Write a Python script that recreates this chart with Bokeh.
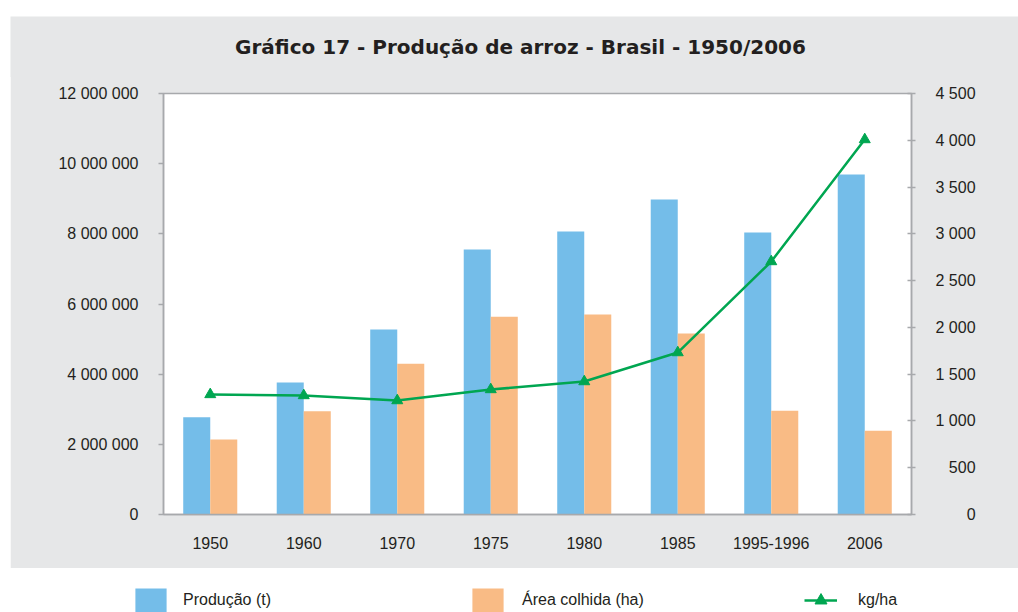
from bokeh.plotting import figure
from bokeh.models import (FactorRange, Range1d, LinearAxis, ColumnDataSource, Legend,
                          LegendItem, CustomJSTickFormatter, FixedTicker, Label)
from bokeh.transform import dodge
from bokeh.embed import file_html
from bokeh.resources import INLINE

categories = ["1950", "1960", "1970", "1975", "1980", "1985", "1995-1996", "2006"]
producao_t = [2770000, 3760000, 5270000, 7550000, 8070000, 8980000, 8040000, 9690000]
area_ha = [2140000, 2940000, 4300000, 5640000, 5700000, 5160000, 2960000, 2390000]
kg_ha = [1283, 1272, 1218, 1336, 1421, 1731, 2704, 4008]
left_ticks = [0, 2000000, 4000000, 6000000, 8000000, 10000000, 12000000]
right_ticks = [0, 500, 1000, 1500, 2000, 2500, 3000, 3500, 4000, 4500]

title_text = "Gráfico 17 - Produção de arroz - Brasil - 1950/2006"
series_names = ["Produção (t)", "Área colhida (ha)", "kg/ha"]

BLUE = "#74bde9"
ORANGE = "#f9bb85"
GREEN = "#00a651"
PANEL = "#e6e7e8"
AXIS = "#a7a9ac"
TEXT = "#231f20"
FONT = "Liberation Sans"

src = ColumnDataSource(dict(cat=categories, prod=producao_t, area=area_ha, kg=kg_ha))
xr = FactorRange(*categories, range_padding=0)

# title strip (top part of the grey panel)
tf = figure(width=1008, height=61, margin=(16, 0, 0, 10), output_backend="svg",
            toolbar_location=None, min_border=0, x_range=Range1d(0, 1), y_range=Range1d(0, 1),
            x_axis_location=None, y_axis_location=None, outline_line_color=None,
            background_fill_color=PANEL, border_fill_color=PANEL)
tf.grid.visible = False
tf.add_layout(Label(x=510, y=31, x_units="screen", y_units="screen", text=title_text,
                    text_align="center", text_baseline="middle", text_font="DejaVu Sans",
                    text_font_style="bold", text_font_size="20px", text_color=TEXT))

p = figure(x_range=xr, y_range=Range1d(0, 12000000),
           width=1008, height=492, margin=(-1, 0, 0, 10),
           output_backend="svg", toolbar_location=None,
           min_border_left=153, min_border_right=107, min_border_top=17, min_border_bottom=54,
           border_fill_color=PANEL, background_fill_color="white",
           outline_line_color=AXIS, outline_line_width=1.5)
p.extra_y_ranges = {"kg": Range1d(0, 4500)}
p.grid.visible = False

p.vbar(x=dodge("cat", -0.1445, range=xr), top="prod", width=0.289, source=src,
       fill_color=BLUE, line_color=None)
p.vbar(x=dodge("cat", 0.1445, range=xr), top="area", width=0.289, source=src,
       fill_color=ORANGE, line_color=None)
p.line(x="cat", y="kg", source=src, y_range_name="kg", line_color=GREEN, line_width=2.5)
p.scatter(x="cat", y="kg", source=src, y_range_name="kg", marker="triangle", size=11,
          fill_color=GREEN, line_color=GREEN)

fmt = CustomJSTickFormatter(code="""
return Math.round(tick).toString().replace(/\\B(?=(\\d{3})+(?!\\d))/g, ' ');
""")
fmt_r = CustomJSTickFormatter(code="""
const s = Math.round(tick).toString().replace(/\\B(?=(\\d{3})+(?!\\d))/g, '\\u00a0');
const full = '4\\u00a0500';
let pad = '';
for (let i = s.length; i < full.length; i++) {
  pad += (full[full.length - 1 - (i)] === '\\u00a0') ? '\\u00a0' : '\\u2007';
}
return pad + s;
""")

def style_axis(ax):
    ax.axis_line_color = AXIS
    ax.axis_line_width = 1.5
    ax.major_tick_line_color = AXIS
    ax.major_tick_line_width = 1.5
    ax.minor_tick_line_color = None
    ax.major_label_text_font = FONT
    ax.major_label_text_font_size = "16px"
    ax.major_label_text_color = TEXT

yl = p.yaxis[0]
yl.ticker = FixedTicker(ticks=left_ticks)
yl.formatter = fmt
style_axis(yl)
yl.major_tick_out = 5
yl.major_tick_in = 0
yl.major_label_standoff = 20

yr = LinearAxis(y_range_name="kg", ticker=FixedTicker(ticks=right_ticks), formatter=fmt_r)
style_axis(yr)
yr.major_tick_out = 4
yr.major_tick_in = 4
yr.major_label_standoff = 20
p.add_layout(yr, "right")

xa = p.xaxis[0]
style_axis(xa)
xa.major_tick_out = 0
xa.major_tick_in = 0
xa.major_tick_line_color = None
xa.major_label_standoff = 22

# legend strip below the panel; its glyphs reuse the data but lie far outside its ranges
lg = figure(width=1008, height=44, margin=(0, 0, 0, 10), output_backend="svg",
            toolbar_location=None, min_border=0, x_range=xr, y_range=Range1d(1e12, 2e12),
            x_axis_location=None, y_axis_location=None, outline_line_color=None,
            background_fill_color="white", border_fill_color="white")
lg.extra_y_ranges = {"kg": Range1d(1e12, 2e12)}
lg.grid.visible = False
r1 = lg.vbar(x=dodge("cat", -0.1445, range=xr), top="prod", width=0.289, source=src,
             fill_color=BLUE, line_color=None)
r2 = lg.vbar(x=dodge("cat", 0.1445, range=xr), top="area", width=0.289, source=src,
             fill_color=ORANGE, line_color=None)
r3 = lg.line(x="cat", y="kg", source=src, y_range_name="kg", line_color=GREEN, line_width=2.5)
r4 = lg.scatter(x="cat", y="kg", source=src, y_range_name="kg", marker="triangle",
                fill_color=GREEN, line_color=GREEN)

def make_legend(items, loc, gw, standoff):
    L = Legend(items=items, location=loc, glyph_width=gw, glyph_height=30,
               label_standoff=standoff, padding=0, margin=0, border_line_color=None,
               background_fill_alpha=0, label_text_font=FONT, label_text_font_size="16px",
               label_text_color=TEXT, label_height=30)
    lg.add_layout(L)

make_legend([LegendItem(label=series_names[0], renderers=[r1])], (121, -3), 39, 13)
make_legend([LegendItem(label=series_names[1], renderers=[r2])], (458, -3), 39, 15)
make_legend([LegendItem(label=series_names[2], renderers=[r3, r4])], (794, -3), 33, 21)

open("out.html", "w").write(file_html([tf, p, lg], INLINE))
